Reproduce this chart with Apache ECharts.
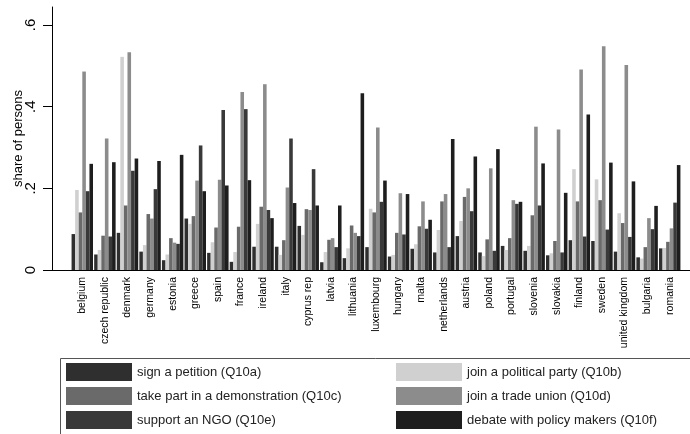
<!DOCTYPE html>
<html>
<head>
<meta charset="utf-8">
<script src="https://cdn.jsdelivr.net/npm/echarts@6/dist/echarts.min.js"></script>
<style>
    html, body { margin: 0; padding: 0; background: #fff; }
    #chart { width: 690px; height: 434px; }
</style>
</head>
<body>
<div id="chart"></div>
<script>
// countries along the x axis
const countries = ['belgium', 'czech republic', 'denmark', 'germany', 'estonia', 'greece', 'spain',
    'france', 'ireland', 'italy', 'cyprus rep', 'latvia', 'lithuania', 'luxembourg', 'hungary',
    'malta', 'netherlands', 'austria', 'poland', 'portugal', 'slovenia', 'slovakia', 'finland',
    'sweden', 'united kingdom', 'bulgaria', 'romania'];

// share of persons
const petition = [0.088, 0.038, 0.091, 0.045, 0.024, 0.126, 0.042, 0.020, 0.057, 0.057, 0.108, 0.019, 0.029, 0.056,
    0.033, 0.052, 0.043, 0.083, 0.043, 0.059, 0.047, 0.036, 0.073, 0.071, 0.045, 0.031, 0.053];
const party = [0.196, 0.049, 0.522, 0.061, 0.038, 0.113, 0.068, 0.044, 0.113, 0.037, 0.086, 0.044, 0.053, 0.150,
    0.037, 0.063, 0.098, 0.120, 0.034, 0.049, 0.059, 0.041, 0.247, 0.222, 0.139, 0.028, 0.054];
const demonstration = [0.141, 0.084, 0.158, 0.137, 0.078, 0.132, 0.104, 0.106, 0.155, 0.073, 0.149, 0.074, 0.109, 0.141,
    0.091, 0.107, 0.168, 0.179, 0.075, 0.078, 0.134, 0.071, 0.168, 0.171, 0.115, 0.056, 0.069];
const tradeUnion = [0.486, 0.322, 0.533, 0.126, 0.067, 0.219, 0.221, 0.436, 0.455, 0.202, 0.147, 0.078, 0.091, 0.349,
    0.188, 0.168, 0.186, 0.200, 0.249, 0.171, 0.351, 0.344, 0.491, 0.548, 0.502, 0.127, 0.102];
const ngo = [0.193, 0.082, 0.243, 0.198, 0.064, 0.305, 0.392, 0.394, 0.147, 0.322, 0.247, 0.056, 0.083, 0.167,
    0.087, 0.101, 0.056, 0.144, 0.047, 0.162, 0.158, 0.043, 0.082, 0.099, 0.081, 0.100, 0.165];
const debate = [0.260, 0.264, 0.273, 0.267, 0.282, 0.193, 0.207, 0.220, 0.127, 0.164, 0.158, 0.158, 0.433, 0.219,
    0.186, 0.123, 0.321, 0.278, 0.296, 0.167, 0.261, 0.189, 0.381, 0.263, 0.217, 0.157, 0.257];

const seriesNames = ['sign a petition (Q10a)', 'join a political party (Q10b)', 'take part in a demonstration (Q10c)',
    'join a trade union (Q10d)', 'support an NGO (Q10e)', 'debate with policy makers (Q10f)'];
const seriesData = [petition, party, demonstration, tradeUnion, ngo, debate];
const colors = ['#2f2f2f', '#d0d0d0', '#6a6a6a', '#8c8c8c', '#393939', '#1e1e1e'];

const font = '"Liberation Sans", Arial, sans-serif';
const chart = echarts.init(document.getElementById('chart'));

const legendBase = {
    orient: 'vertical',
    top: 363,
    padding: 0,
    icon: 'rect',
    itemWidth: 66,
    itemHeight: 18,
    itemGap: 6,
    selectedMode: false,
    textStyle: { fontFamily: font, fontSize: 13, color: '#222' }
};

const option = {
    animation: false,
    color: colors,
    grid: [
        // axis frame: y line goes a bit above .6
        { left: 52, right: 0, top: 7, bottom: 164 },
        // bars
        { left: 71, right: 9, top: 25, bottom: 164 }
    ],
    xAxis: [
        {
            gridIndex: 0, type: 'value', min: 0, max: 1,
            axisLine: { show: true, lineStyle: { color: '#000', width: 1 } },
            axisTick: { show: false }, axisLabel: { show: false }, splitLine: { show: false }
        },
        {
            gridIndex: 1, type: 'category', data: countries,
            axisLine: { show: false }, axisTick: { show: false },
            axisLabel: { rotate: 90, interval: 0, margin: 7, fontFamily: font, fontSize: 10.5, color: '#000' }
        }
    ],
    yAxis: [
        {
            gridIndex: 0, type: 'value', min: 0, max: 0.644,
            axisLine: { show: true, lineStyle: { color: '#000', width: 1 } },
            axisTick: { show: false }, axisLabel: { show: false }, splitLine: { show: false },
            name: 'share of persons', nameLocation: 'middle', nameGap: 27,
            nameTextStyle: { fontFamily: font, fontSize: 13, color: '#000' }
        },
        {
            gridIndex: 1, type: 'value', min: 0, max: 0.6, interval: 0.2, offset: 19,
            axisLine: { show: false },
            axisTick: { show: true, length: 9, lineStyle: { color: '#000' } },
            splitLine: { show: false },
            axisLabel: {
                rotate: 90, margin: 14, fontFamily: font, fontSize: 15, color: '#000',
                formatter: v => v === 0 ? '0' : ('' + (+v.toFixed(1))).replace(/^0/, '')
            }
        }
    ],
    legend: [
        Object.assign({ left: 66, data: [seriesNames[0], seriesNames[2], seriesNames[4]] }, legendBase),
        Object.assign({ left: 396, data: [seriesNames[1], seriesNames[3], seriesNames[5]] }, legendBase)
    ],
    graphic: [
        {
            type: 'rect', left: 58, top: 356, silent: true,
            shape: { width: 700, height: 120 },
            style: { fill: 'none', stroke: '#555', lineWidth: 1 }
        }
    ],
    series: seriesData.map((d, i) => ({
        name: seriesNames[i],
        type: 'bar',
        xAxisIndex: 1,
        yAxisIndex: 1,
        data: d,
        barGap: 0,
        barCategoryGap: '5%'
    }))
};

chart.setOption(option);
</script>
</body>
</html>
